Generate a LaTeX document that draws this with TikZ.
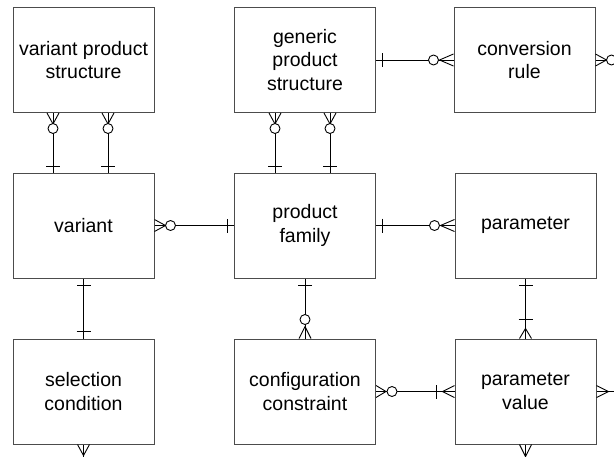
\documentclass[tikz,border=0pt]{standalone}
\usepackage{fontspec}
\setmainfont{Liberation Sans}
\usetikzlibrary{calc}

\tikzset{
  entity/.style={draw=black!70, line width=1pt, minimum width=141pt, minimum height=105pt,
    inner sep=0pt, align=center, font=\fontsize{19.5}{23.5}\selectfont},
  rel/.style={draw=black, line width=0.9pt},
  % ER end marks, drawn along +x pointing away from the entity
  pics/crow/.style={code={\draw[rel] (0,-6) -- (#1,0) -- (0,6);}},
  pics/ring/.style={code={\draw[rel, fill=white] (#1,0) circle[radius=5];}},
  pics/bar/.style={code={\draw[rel] (#1,-7) -- (#1,7);}}
}

\begin{document}
\begin{tikzpicture}[x=1pt, y=-1pt]
\useasboundingbox (0,0) rectangle (614,456);

% entities
\node[entity] (vps)  at (83.5,60)    {variant product\\structure};
\node[entity] (gps)  at (305,60)     {generic\\product\\structure};
\node[entity] (conv) at (524.5,60)   {conversion\\rule};
\node[entity] (var)  at (83.5,225.5) {variant};
\node[entity] (pf)   at (305,225.5)  {product\\family};
\node[entity] (par)  at (525.5,225.5){parameter};
\node[entity] (sel)  at (83.5,391.5) {selection\\condition};
\node[entity] (cc)   at (305,391.5)  {configuration\\constraint};
\node[entity] (pv)   at (525.5,391.5){parameter\\value};

% loose ends leaving the drawing
\coordinate (convout) at (630,60);
\coordinate (pvout)   at (630,391.5);
\coordinate (selout)  at (83.5,470);
\coordinate (pvdown)  at (525.5,470);

% relationship lines
\draw[rel] ([xshift=-30.5pt]vps.south) -- ([xshift=-30.5pt]var.north);
\draw[rel] ([xshift=24.5pt]vps.south) -- ([xshift=24.5pt]var.north);
\draw[rel] ([xshift=-30pt]gps.south) -- ([xshift=-30pt]pf.north);
\draw[rel] ([xshift=25pt]gps.south) -- ([xshift=25pt]pf.north);
\draw[rel] (gps.east) -- (conv.west);
\draw[rel] (conv.east) -- (convout);
\draw[rel] (var.east) -- (pf.west);
\draw[rel] (pf.east) -- (par.west);
\draw[rel] (var.south) -- (sel.north);
\draw[rel] (pf.south) -- (cc.north);
\draw[rel] (par.south) -- (pv.north);
\draw[rel] (cc.east) -- (pv.west);
\draw[rel] (pv.east) -- (pvout);
\draw[rel] (sel.south) -- (selout);
\draw[rel] (pv.south) -- (pvdown);

% end marks
\path ([xshift=-30.5pt]vps.south) pic[rotate=-90]{crow=11} pic[rotate=-90]{ring=15.5};
\path ([xshift=24.5pt]vps.south)  pic[rotate=-90]{crow=11} pic[rotate=-90]{ring=15.5};
\path ([xshift=-30.5pt]var.north) pic[rotate=90]{bar=6};
\path ([xshift=24.5pt]var.north)  pic[rotate=90]{bar=6};

\path ([xshift=-30pt]gps.south) pic[rotate=-90]{crow=11} pic[rotate=-90]{ring=15.5};
\path ([xshift=25pt]gps.south)  pic[rotate=-90]{crow=11} pic[rotate=-90]{ring=15.5};
\path ([xshift=-30pt]pf.north) pic[rotate=90]{bar=6};
\path ([xshift=25pt]pf.north)  pic[rotate=90]{bar=6};

\path (gps.east) pic{bar=6};
\path (conv.west) pic[rotate=180]{crow=14} pic[rotate=180]{ring=20};
\path (conv.east) pic{crow=11} pic{ring=16};

\path (var.east) pic{crow=11} pic{ring=16};
\path (pf.west) pic[rotate=180]{bar=7};

\path (pf.east) pic{bar=6};
\path (par.west) pic[rotate=180]{crow=14} pic[rotate=180]{ring=20};

\path (var.south) pic[rotate=-90]{bar=7};
\path (sel.north) pic[rotate=90]{bar=7};

\path (pf.south) pic[rotate=-90]{bar=7};
\path (cc.north) pic[rotate=90]{crow=12} pic[rotate=90]{ring=19};

\path (par.south) pic[rotate=-90]{bar=7};
\path (pv.north) pic[rotate=90]{crow=10} pic[rotate=90]{bar=19};

\path (cc.east) pic{crow=10} pic{ring=16};
\path (pv.west) pic[rotate=180]{crow=12} pic[rotate=180]{bar=18};

\path (pv.east) pic{crow=12};
\path (sel.south) pic[rotate=-90]{crow=11};
\path (pv.south) pic[rotate=-90]{crow=12};
\end{tikzpicture}
\end{document}
